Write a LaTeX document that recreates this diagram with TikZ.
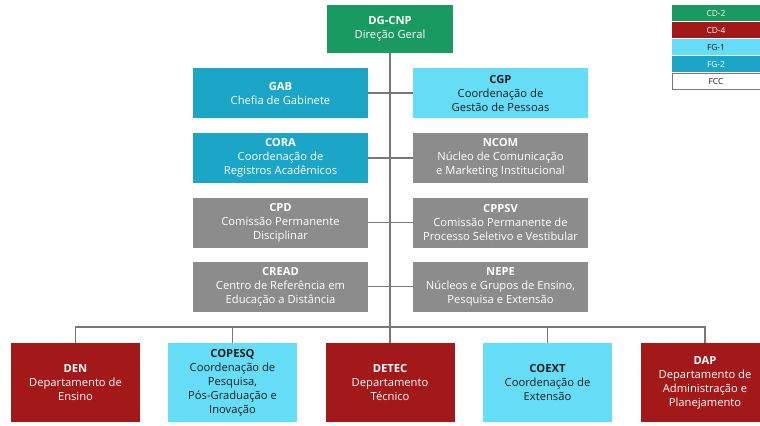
\documentclass[tikz,border=0pt]{standalone}
\usepackage{fontspec}
\setmainfont{Open Sans}
\usetikzlibrary{positioning}

\definecolor{cdtwo}{RGB}{24,154,96}
\definecolor{cdfour}{RGB}{163,24,24}
\definecolor{fgone}{RGB}{102,221,247}
\definecolor{fgtwo}{RGB}{27,165,199}
\definecolor{fccgray}{RGB}{140,140,140}
\definecolor{linegray}{RGB}{120,120,120}
\definecolor{textdark}{RGB}{30,30,30}

\tikzset{
  unit/.style={rectangle, inner sep=2pt, align=center, text=white,
    font=\fontsize{8.4}{10.5}\selectfont},
  side/.style={unit, minimum width=131.25pt, minimum height=37.5pt},
  dept/.style={unit, minimum width=96.75pt, minimum height=59.25pt},
  key/.style={rectangle, inner sep=0pt, minimum width=66pt, minimum height=12.4pt,
    text=white, font=\fontsize{6.3}{7}\selectfont},
  link/.style={draw=linegray, line width=0.8pt},
}

\begin{document}
\begin{tikzpicture}[x=0.75pt,y=0.75pt,yscale=-1,xscale=1]
\clip (0,0) rectangle (760,425);

% top
\node [unit, fill=cdtwo, minimum width=94.5pt, minimum height=36pt] (dgcnp) at (390,29)
  {\textbf{DG-CNP}\\Direção Geral};

% staff boxes, left column
\node [side, fill=fgtwo] (gab) at (280.5,93) {\textbf{GAB}\\Chefia de Gabinete};
\node [side, fill=fgtwo] (cora) at (280.5,158) {\textbf{CORA}\\Coordenação de\\Registros Acadêmicos};
\node [side, fill=fccgray] (cpd) at (280.5,222.5) {\textbf{CPD}\\Comissão Permanente\\Disciplinar};
\node [side, fill=fccgray] (cread) at (280.5,286.5) {\textbf{CREAD}\\Centro de Referência em\\Educação a Distância};

% staff boxes, right column
\node [side, fill=fgone, text=textdark] (cgp) at (500.5,93) {\textbf{CGP}\\Coordenação de\\Gestão de Pessoas};
\node [side, fill=fccgray] (ncom) at (500.5,158) {\textbf{NCOM}\\Núcleo de Comunicação\\e Marketing Institucional};
\node [side, fill=fccgray] (cppsv) at (500.5,222.5) {\textbf{CPPSV}\\Comissão Permanente de\\Processo Seletivo e Vestibular};
\node [side, fill=fccgray] (nepe) at (500.5,286.5) {\textbf{NEPE}\\Núcleos e Grupos de Ensino,\\Pesquisa e Extensão};

% departments
\node [dept, fill=cdfour] (den) at (75.5,382.5) {\textbf{DEN}\\Departamento de\\Ensino};
\node [dept, fill=fgone, text=textdark] (copesq) at (232.5,382.5) {\textbf{COPESQ}\\Coordenação de\\Pesquisa,\\Pós-Graduação e\\Inovação};
\node [dept, fill=cdfour] (detec) at (390,382.5) {\textbf{DETEC}\\Departamento\\Técnico};
\node [dept, fill=fgone, text=textdark] (coext) at (547.5,382.5) {\textbf{COEXT}\\Coordenação de\\Extensão};
\node [dept, fill=cdfour] (dap) at (705,382.5) {\textbf{DAP}\\Departamento de\\Administração e\\Planejamento};

% legend
\node [key, fill=cdtwo] (kcdtwo) at (716,13) {CD-2};
\node [key, fill=cdfour, below=0pt of kcdtwo] (kcdfour) {CD-4};
\node [key, fill=fgone, text=textdark, below=0pt of kcdfour] (kfgone) {FG-1};
\node [key, fill=fgtwo, below=0pt of kfgone] (kfgtwo) {FG-2};
\node [key, draw=linegray, line width=0.4pt, text=textdark, below=0pt of kfgtwo] (kfcc) {FCC};

% connections
\coordinate (bus) at (390,327);
\draw [link] (dgcnp.south) -- (detec.north);
\draw [link] (gab.east) -- (cgp.west);
\draw [link] (cora.east) -- (ncom.west);
\draw [link] (cpd.east) -- (cppsv.west);
\draw [link] (cread.east) -- (nepe.west);
\draw [link] (den.north) -- (den.north |- bus) -| (dap.north);
\draw [link] (copesq.north) -- (copesq.north |- bus);
\draw [link] (coext.north) -- (coext.north |- bus);

\end{tikzpicture}
\end{document}
